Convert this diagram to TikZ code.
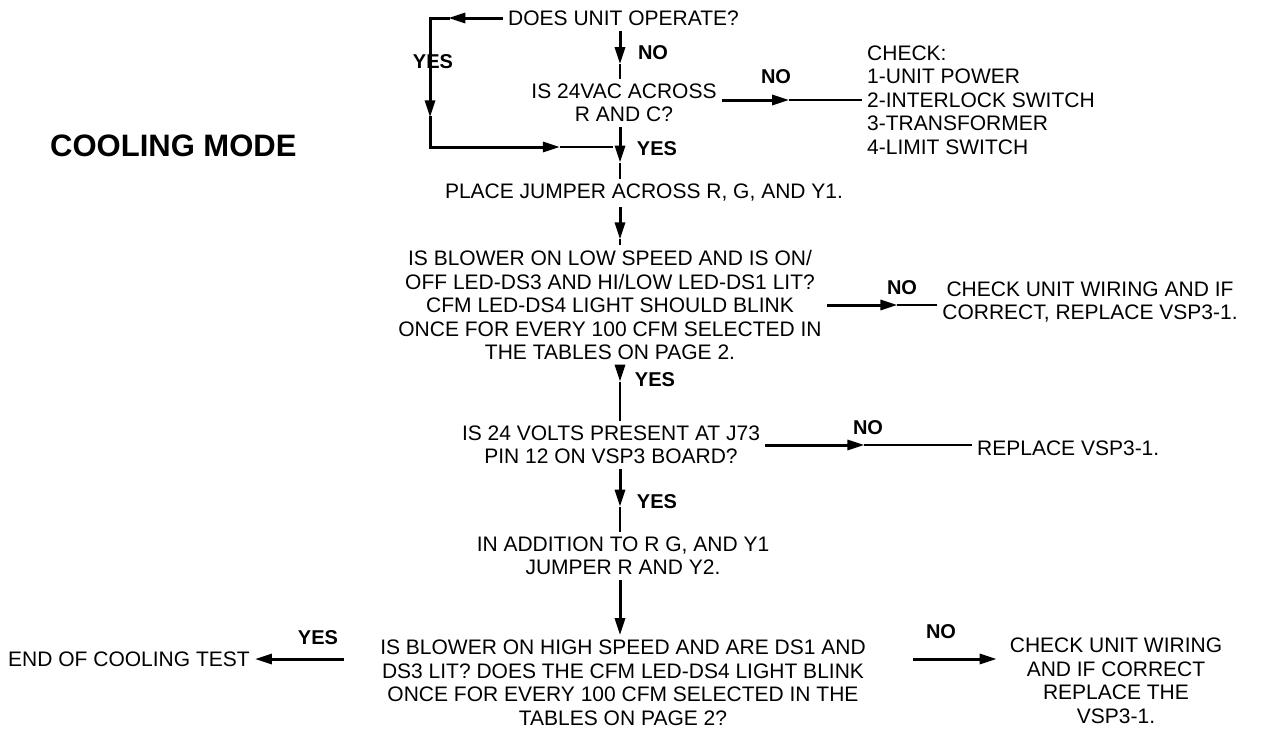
\documentclass[tikz,border=0pt]{standalone}
\usepackage{fontspec}
\setmainfont{Liberation Sans}
\usetikzlibrary{arrows.meta, calc, positioning}
\tikzset{
  txt/.style      = {font=\fontsize{21}{23.5}\selectfont, align=center, inner sep=5pt},
  title/.style    = {font=\fontsize{31}{33}\selectfont\bfseries, inner sep=0pt},
  ans/.style      = {font=\fontsize{20}{22}\selectfont\bfseries, inner sep=0pt},
  leadline/.style = {line width=3pt, -{Triangle[length=17pt, width=10pt]}},
  tailline/.style = {line width=2pt},
  loopline/.style = {line width=3pt, line cap=rect},
  endline/.style  = {line width=3pt, -{Triangle[length=17pt, width=10pt]}},
}
% thick run up to the arrow tip, thinner run after it
\newcommand{\midflow}[4][tailline]{%
  \draw[leadline] (#2) -- ($(#2)!#4!(#3)$);
  \draw[#1] ($(#2)!#4!(#3)$) -- (#3);
}

\begin{document}
\begin{tikzpicture}[x=1pt, y=-1pt]
  \useasboundingbox (0,0) rectangle (1275,731);
  \coordinate (spine) at (620,0);

  \node[title, anchor=west] (mode) at (50,146) {COOLING MODE};

  \node[txt, anchor=west] (operate) at (503,18) {DOES UNIT OPERATE?};
  \node[txt] (acrossRC) at (624,103) {IS 24VAC ACROSS\\R AND C?};
  \node[txt, align=left, anchor=west] (checkpower) at (862,100)
    {CHECK:\\1-UNIT POWER\\2-INTERLOCK SWITCH\\3-TRANSFORMER\\4-LIMIT SWITCH};
  \node[txt] (jumper) at (644,193) {PLACE JUMPER ACROSS R, G, AND Y1.};
  \node[txt] (lowspeed) at (610,305) {IS BLOWER ON LOW SPEED AND IS ON/\\
    OFF LED-DS3 AND HI/LOW LED-DS1 LIT?\\CFM LED-DS4 LIGHT SHOULD BLINK\\
    ONCE FOR EVERY 100 CFM SELECTED IN\\THE TABLES ON PAGE 2.};
  \node[txt] (wiringlow) at (1090,302) {CHECK UNIT WIRING AND IF\\CORRECT, REPLACE VSP3-1.};
  \node[txt] (volts) at (611,445) {IS 24 VOLTS PRESENT AT J73\\PIN 12 ON VSP3 BOARD?};
  \node[txt, anchor=west] (replace) at (972,448) {REPLACE VSP3-1.};
  \node[txt] (addjumper) at (623,556) {IN ADDITION TO R G, AND Y1\\JUMPER R AND Y2.};
  \node[txt] (highspeed) at (623,683) {IS BLOWER ON HIGH SPEED AND ARE DS1 AND\\
    DS3 LIT? DOES THE CFM LED-DS4 LIGHT BLINK\\ONCE FOR EVERY 100 CFM SELECTED IN THE\\
    TABLES ON PAGE 2?};
  \node[txt, anchor=west] (endtest) at (3,659) {END OF COOLING TEST};
  \node[txt] (wiringhigh) at (1116,681) {CHECK UNIT WIRING\\AND IF CORRECT\\REPLACE THE\\VSP3-1.};

  % answers
  \node[ans] (yesloop) at (433,62) {YES};
  \node[ans] (noop)    at (653,53) {NO};
  \node[ans] (yesrc)   at (657,149) {YES};
  \node[ans] (norc)    at (776,77) {NO};
  \node[ans] (yeslow)  at (655,380) {YES};
  \node[ans] (nolow)   at (902,288) {NO};
  \node[ans] (novolts) at (868,428) {NO};
  \node[ans] (yesvolts) at (657,502) {YES};
  \node[ans] (yeshigh) at (318,638) {YES};
  \node[ans] (nohigh)  at (941,632) {NO};

  % yes loop round the left
  \coordinate (looptop) at (430,18);
  \coordinate (loopbot) at (430,147);
  \coordinate (loopend) at (613,147);
  \midflow[loopline]{operate.west}{looptop}{0.75}
  \midflow[loopline]{looptop}{loopbot}{0.77}
  \midflow{loopbot}{loopend}{0.71}

  % main column
  \midflow{operate.south -| spine}{acrossRC.north -| spine}{0.7}
  \midflow{acrossRC.south -| spine}{jumper.north -| spine}{0.68}
  \midflow{jumper.south -| spine}{lowspeed.north -| spine}{0.85}
  \midflow{lowspeed.south -| spine}{volts.north -| spine}{0.3}
  \midflow{volts.south -| spine}{addjumper.north -| spine}{0.6}
  \draw[endline] (addjumper.south -| spine) -- (highspeed.north -| spine);

  % side branches
  \midflow{acrossRC.east |- checkpower}{checkpower.west}{0.48}
  \midflow{lowspeed.east}{wiringlow.west |- lowspeed.east}{0.64}
  \midflow{volts.east}{replace.west |- volts.east}{0.48}
  \draw[endline, shorten <=42pt, shorten >=8pt]
    (highspeed.east |- endtest) -- (wiringhigh.west |- endtest);
  \draw[endline, shorten <=31pt] (highspeed.west |- endtest) -- (endtest.east);
\end{tikzpicture}
\end{document}
